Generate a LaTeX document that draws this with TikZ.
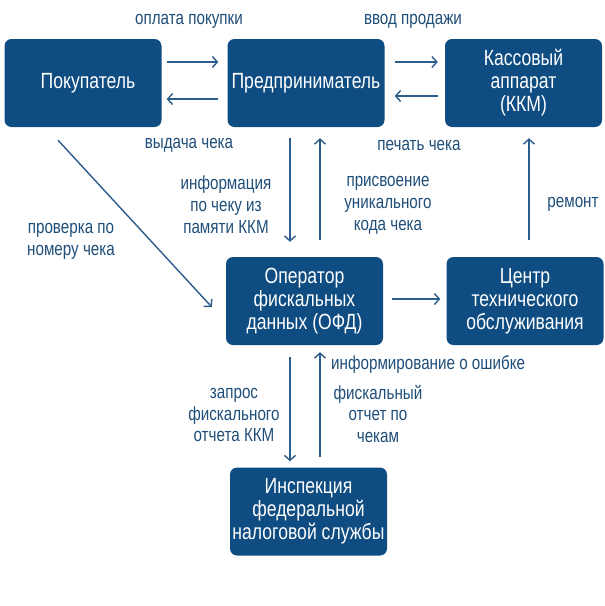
\documentclass[tikz,border=0pt]{standalone}
\usepackage{fontspec}
\setmainfont{Liberation Sans}[FakeStretch=0.8]
\usetikzlibrary{arrows.meta}
\definecolor{boxblue}{HTML}{0E4C81}
\definecolor{lblblue}{HTML}{1F4E79}
\definecolor{arrblue}{HTML}{2A5C8C}
\tikzset{
  box/.style={draw=none, fill=boxblue, rounded corners=7pt, minimum width=157pt, minimum height=88pt,
    text=white, align=center, inner sep=2pt, font=\fontsize{22}{23}\selectfont},
  lbl/.style={text=lblblue, align=center, inner sep=0pt, font=\fontsize{19}{21.8}\selectfont},
  arr/.style={draw=arrblue, line width=1.4pt, -{Straight Barb[length=5pt,width=11pt]}},
}
\begin{document}
\begin{tikzpicture}[x=1pt,y=-1pt]
\useasboundingbox (0,0) rectangle (605,606);
\node[box] (b1) at (83,83) {\hspace*{10pt}Покупатель};
\node[box] (b2) at (306,83) {Предприниматель};
\node[box] (b3) at (523.5,83) {Кассовый\\аппарат\\(ККМ)};
\node[box] (b4) at (304.5,301) {Оператор\\фискальных\\данных (ОФД)};
\node[box] (b5) at (525,301) {Центр\\технического\\обслуживания};
\node[box] (b6) at (308.5,511.5) {Инспекция\\федеральной\\налоговой службы};

% horizontal arrows top row
\draw[arr, shorten <=5pt, shorten >=9pt] ([yshift=21pt]b1.east) -- ([yshift=21pt]b1.east -| b2.west);
\draw[arr, shorten <=9pt, shorten >=5pt] ([yshift=-16pt]b1.east -| b2.west) -- ([yshift=-16pt]b1.east);
\draw[arr, shorten <=10pt, shorten >=7pt] ([yshift=21pt]b2.east) -- ([yshift=21pt]b2.east -| b3.west);
\draw[arr, shorten <=7pt, shorten >=10pt] ([yshift=-13pt]b2.east -| b3.west) -- ([yshift=-13pt]b2.east);

% vertical arrows between b2 and b4
\draw[arr, shorten <=11pt, shorten >=15pt] ([xshift=-16pt]b2.south) -- ([xshift=-16pt]b2.south |- b4.north);
\draw[arr, shorten <=17pt, shorten >=11pt] ([xshift=14pt]b2.south |- b4.north) -- ([xshift=14pt]b2.south);

% remont
\draw[arr, shorten <=17pt, shorten >=11pt] ([xshift=4pt]b5.north) -- ([xshift=4pt]b5.north |- b3.south);

% diagonal
\draw[arr] ([xshift=-25pt,yshift=-13pt]b1.south) -- ([xshift=-14pt,yshift=-6pt]b4.west);

% b4 -> b5
\draw[arr, shorten <=9pt, shorten >=6pt] ([yshift=2pt]b4.east) -- ([yshift=2pt]b4.east -| b5.west);

% b4 <-> b6
\draw[arr, shorten <=12pt, shorten >=6pt] ([xshift=-14.5pt]b4.south) -- ([xshift=-14.5pt]b4.south |- b6.north);
\draw[arr, shorten <=10pt, shorten >=7pt] ([xshift=15.5pt]b4.south |- b6.north) -- ([xshift=15.5pt]b4.south);

% labels
\node[lbl] (l1) at (189,21) {оплата покупки};
\node[lbl] (l2) at (413,21) {ввод продажи};
\node[lbl] (l3) at (189,145) {выдача чека};
\node[lbl] (l4) at (419,145) {печать чека};
\node[lbl] (l5) at (226,205) {информация\\по чеку из\\памяти ККМ};
\node[lbl] (l6) at (388,205) {присвоение\\уникального\\кода чека};
\node[lbl] (l7) at (573,204) {ремонт};
\node[lbl] (l8) at (71,241) {проверка по\\номеру чека};
\node[lbl, anchor=west] (l9) at (331,364) {информирование о ошибке};
\node[lbl] (l10) at (378,414) {фискальный\\отчет по\\чекам};
\node[lbl] (l11) at (234,415) {запрос\\фискального\\отчета ККМ};
\end{tikzpicture}
\end{document}
